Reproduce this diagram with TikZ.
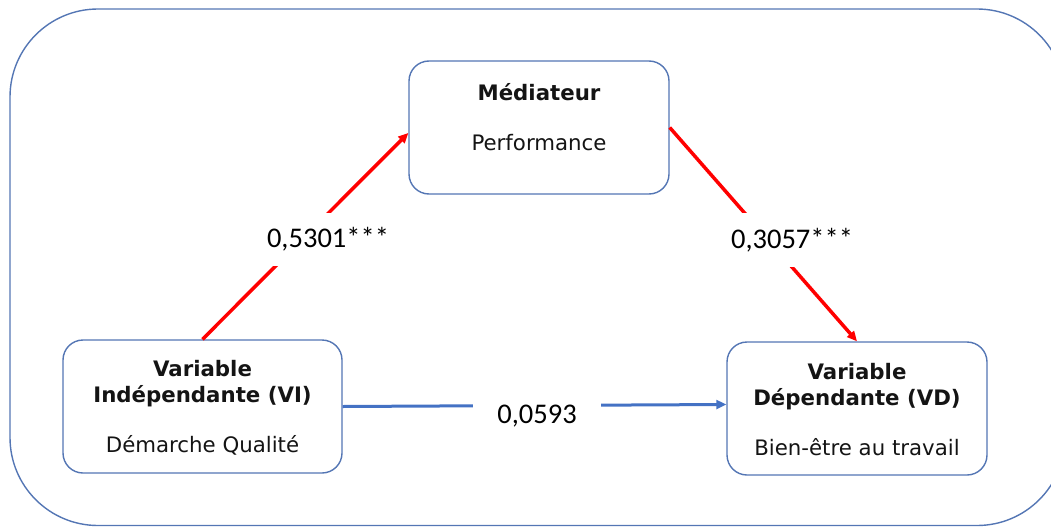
\documentclass[tikz,border=0pt]{standalone}
\usepackage{fontspec}
\setmainfont{DejaVu Sans}
\newfontfamily\lblfont{Carlito}
\usetikzlibrary{arrows.meta,calc}
\definecolor{framecol}{RGB}{84,118,180}
\definecolor{bluearr}{RGB}{68,114,196}
\definecolor{redarr}{RGB}{255,0,0}
\definecolor{txtcol}{RGB}{20,20,20}
\newcommand\boxcontent[3]{\parbox[c][133pt][t]{#1}{\centering\fontsize{21.3}{26}\selectfont\vspace*{#2}#3\par}}
\begin{document}
\begin{tikzpicture}[x=1pt,y=-1pt,
  box/.style={draw=framecol, line width=1.4pt, rounded corners=20pt, inner sep=0pt, fill=white, text=txtcol},
  lbl/.style={fill=white, inner sep=0pt, text=black, font=\fontsize{28.5}{30}\selectfont\lblfont},
  redline/.style={draw=redarr, line width=3.5pt, -{Triangle[length=10pt,width=9pt]}},
  blueline/.style={draw=bluearr, line width=3pt, -{Triangle[length=10pt,width=9pt]}}]
\useasboundingbox (0,0) rectangle (1051,527);
\clip (0,0) rectangle (1051,527);
\draw[framecol, line width=1.4pt, rounded corners=88pt] (10,9) rectangle (1065,525.5);

\node[box] (m) at (539,127.5) {\boxcontent{260pt}{22.5pt}{\textbf{Médiateur}\\[24pt]Performance}};
\node[box] (vi) at (202.5,406.5) {\boxcontent{279pt}{20.5pt}{\textbf{Variable}\\\textbf{Indépendante (VI)}\\[24pt]Démarche Qualité}};
\node[box] (vd) at (857,408.5) {\boxcontent{260pt}{21pt}{\textbf{Variable}\\\textbf{Dépendante (VD)}\\[24pt]Bien-être au travail}};

\draw[redline] (vi.north) -- ($(m.west)+(0,5.5)$);
\draw[redline] (m.east) -- (vd.north);
\draw[blueline] (vi.east) -- ($(vd.west)+(0,-4)$);

\node[lbl, minimum width=140pt, minimum height=53pt] (l1) at (328,239) {0,5301***};
\node[lbl, minimum width=140pt, minimum height=54pt] (l2) at (792,240) {0,3057***};
\node[lbl, minimum width=128pt, minimum height=40pt] (l3) at (537,416) {0,0593};
\end{tikzpicture}
\end{document}
